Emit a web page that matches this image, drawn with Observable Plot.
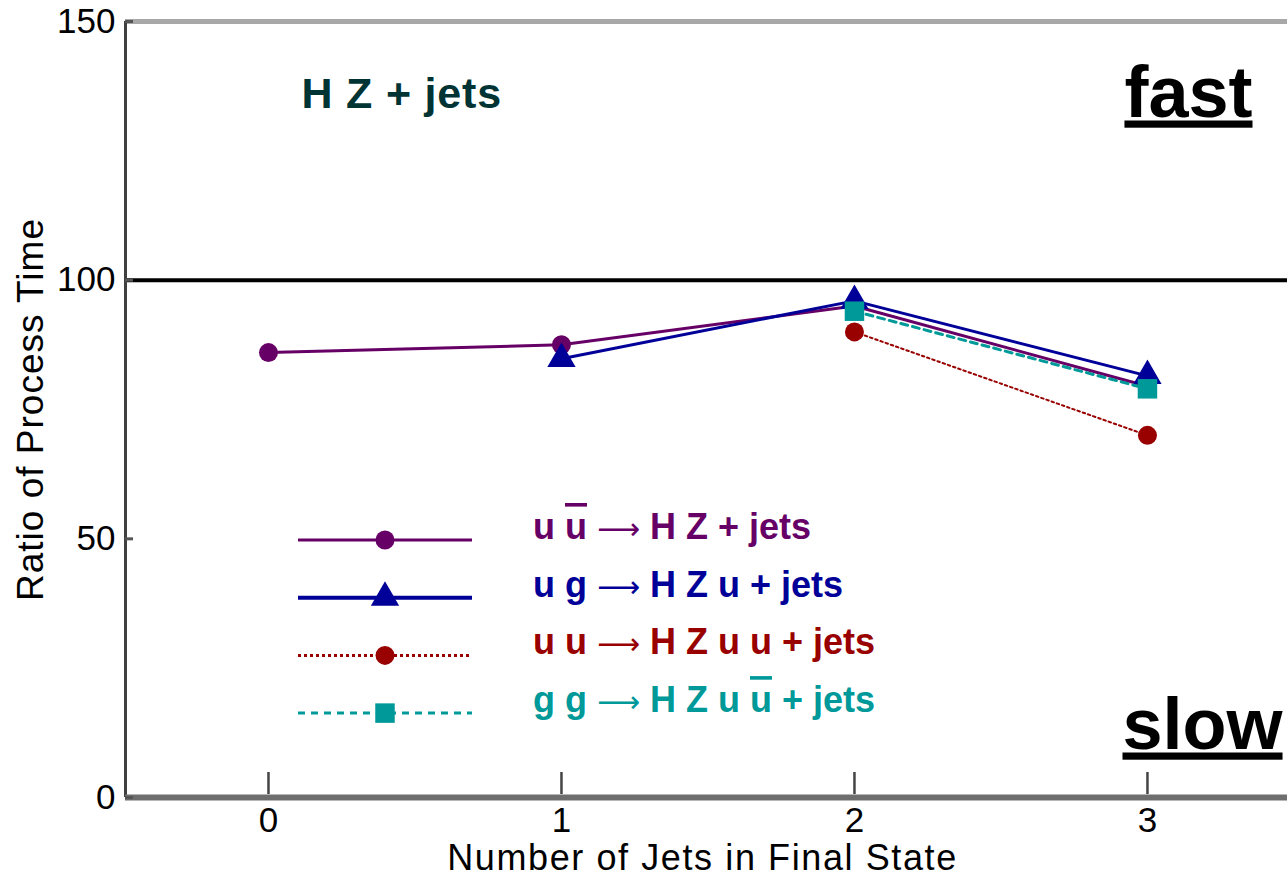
<!DOCTYPE html>
<html>
<head>
<meta charset="utf-8">
<script src="https://cdn.jsdelivr.net/npm/d3@7"></script>
<script src="https://cdn.jsdelivr.net/npm/@observablehq/plot@0.6"></script>
<style>
  html, body { margin: 0; padding: 0; background: #fff; }
  #wrap { position: relative; width: 1287px; height: 879px; overflow: hidden; }
  #legend { position: absolute; left: 0; top: 0; pointer-events: none; }
</style>
</head>
<body>
<div id="wrap"></div>
<script>
// ---- data ----
const jetCounts = [0, 1, 2, 3];
const yTicks = [0, 50, 100, 150];
const seriesLabels = [
  "u u\u0305 \u27F6 H Z + jets",
  "u g \u27F6 H Z u + jets",
  "u u \u27F6 H Z u u + jets",
  "g g \u27F6 H Z u u\u0305 + jets"
];
const uubarValues = [86, 87.5, 95, 79.5];
const ugValues = [null, 84.8, 96, 81.5];
const uuValues = [null, null, 90, 70];
const ggValues = [null, null, 94, 79];
const referenceLevel = 100;
const titleText = "H Z + jets";
const fastText = "fast";
const slowText = "slow";
const xLabel = "Number of Jets in Final State";
const yLabel = "Ratio of Process Time";

// ---- styles ----
const seriesColors = ["#660066", "#000099", "#990000", "#009999"];
const seriesSymbols = ["circle", "triangle", "circle", "square"];
const seriesRadius = [9.5, 10.5, 9.5, 11];
const seriesWidths = [3, 3, 2, 3];
const seriesDash = [null, null, "2.5,3", "7,5"];
const legendDash = [null, null, "3,3", "7,6"];
const legendWidths = [3, 4, 3, 3];

const xDomain = [-0.488, 3.478];
const yDomain = [0, 150];
const W = 1287, H = 879;
const mL = 125, mR = 0, mT = 21, mB = 82;
const frameW = W - mL - mR, frameH = H - mT - mB;
const FONT = "'Liberation Sans', Arial, Helvetica, sans-serif";

const seriesValues = [uubarValues, ugValues, uuValues, ggValues];
const series = seriesValues.map((vals, k) => ({
  label: seriesLabels[k],
  color: seriesColors[k],
  symbol: seriesSymbols[k],
  points: jetCounts.map((j, i) => ({jets: j, ratio: vals[i]})).filter(p => p.ratio != null)
}));

const seriesMarks = series.flatMap((s, k) => [
  Plot.line(s.points, {x: "jets", y: "ratio", stroke: s.color, strokeWidth: seriesWidths[k],
    strokeDasharray: seriesDash[k]}),
  Plot.dot(s.points, {x: "jets", y: "ratio", symbol: s.symbol, r: seriesRadius[k], fill: s.color, stroke: "none"})
]);

const chart = Plot.plot({
  width: W, height: H,
  marginLeft: mL, marginRight: mR, marginTop: mT, marginBottom: mB,
  style: {fontFamily: FONT, background: "white", color: "black"},
  x: {type: "linear", domain: xDomain},
  y: {type: "linear", domain: yDomain},
  marks: [
    // frame spines
    Plot.ruleY([yDomain[1]], {stroke: "#a8a8a8", strokeWidth: 5}),
    Plot.ruleY([referenceLevel], {stroke: "black", strokeWidth: 4}),
    Plot.ruleX([xDomain[0]], {stroke: "#404040", strokeWidth: 3}),
    Plot.ruleY([yDomain[0]], {stroke: "#6e6e6e", strokeWidth: 6}),
    // inward ticks
    Plot.tickY(yTicks, {y: d => d, stroke: "#555", strokeWidth: 3, insetRight: frameW - 8}),
    Plot.tickX(jetCounts, {x: d => d, stroke: "#444", strokeWidth: 2.5, insetTop: frameH - 25, insetBottom: 3}),
    // axes
    Plot.axisX(jetCounts, {tickSize: 0, tickPadding: 10, fontSize: 35, label: null, tickFormat: d => String(d)}),
    Plot.axisY(yTicks, {tickSize: 0, tickPadding: 10, fontSize: 35, label: null, tickFormat: d => String(d)}),
    Plot.text([xLabel], {text: d => d, frameAnchor: "bottom", dy: 61, dx: -4, lineAnchor: "middle",
      textAnchor: "middle", fontSize: 36}),
    Plot.text([yLabel], {text: d => d, frameAnchor: "left", dx: -94, rotate: -90, lineAnchor: "middle",
      textAnchor: "middle", fontSize: 37}),
    // annotations
    Plot.text([titleText], {text: d => d, frameAnchor: "top-left", dx: 176, dy: 56, lineAnchor: "top",
      textAnchor: "start", fontSize: 43, fontWeight: "bold", fill: "#003333"}),
    Plot.text([fastText], {text: d => d, frameAnchor: "top-right", dx: -35, dy: 95, lineAnchor: "bottom",
      textAnchor: "end", fontSize: 72, fontWeight: "bold", fill: "black"}),
    Plot.text([slowText], {text: d => d, frameAnchor: "bottom-right", dx: -165, dy: -49, lineAnchor: "bottom",
      textAnchor: "start", fontSize: 72, fontWeight: "bold", fill: "black"}),
    // data
    ...seriesMarks
  ]
});

// post-process text styling
const spacing = {[xLabel]: "1.6px", [yLabel]: "1px", [titleText]: "0.8px"};
d3.select(chart).selectAll("text").each(function() {
  const t = this.textContent;
  if (t === fastText || t === slowText) this.style.textDecoration = "underline";
  if (spacing[t]) this.setAttribute("letter-spacing", spacing[t]);
});

const wrap = document.getElementById("wrap");
wrap.appendChild(chart);

// ---- legend overlay (drawn from the series table) ----
const legendX1 = 298, legendX2 = 472, legendMarkerX = 385, legendTextX = 533;
const legendTop = 540, legendStep = 57.7;
const symbolMap = {circle: d3.symbolCircle, triangle: d3.symbolTriangle, square: d3.symbolSquare};
const lsvg = d3.select(wrap).append("svg").attr("id", "legend").attr("width", W).attr("height", H);
series.forEach((s, k) => {
  const y = legendTop + k * legendStep;
  const g = lsvg.append("g");
  g.append("line").attr("x1", legendX1).attr("x2", legendX2).attr("y1", y).attr("y2", y)
    .attr("stroke", s.color).attr("stroke-width", legendWidths[k])
    .attr("stroke-dasharray", legendDash[k]);
  g.append("path").attr("transform", `translate(${legendMarkerX},${y})`)
    .attr("d", d3.symbol(symbolMap[s.symbol], Math.PI * seriesRadius[k] * seriesRadius[k])())
    .attr("fill", s.color);
  const text = g.append("text").attr("x", legendTextX).attr("y", y - 1)
    .attr("fill", s.color)
    .attr("font-family", FONT)
    .attr("font-size", 36).attr("font-weight", "bold")
    .style("white-space", "pre");
  s.label.split(/(.\u0305|\u27F6)/).filter(p => p.length).forEach(part => {
    if (part.length === 2 && part[1] === "\u0305") {
      text.append("tspan").text(part[0]).style("text-decoration", "overline");
    } else if (part === "\u27F6") {
      text.append("tspan").text(part).attr("font-weight", "normal")
        .attr("font-family", "'DejaVu Sans', " + FONT).attr("font-size", 30);
    } else {
      text.append("tspan").text(part);
    }
  });
});
</script>
</body>
</html>
